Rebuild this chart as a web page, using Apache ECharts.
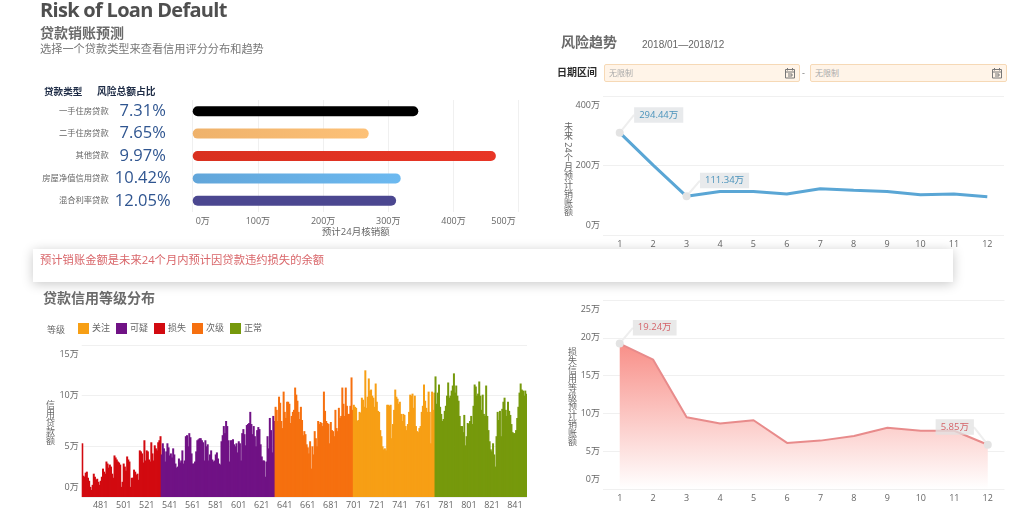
<!DOCTYPE html>
<html lang="zh">
<head>
<meta charset="UTF-8">
<title>Risk of Loan Default</title>
<script src="https://cdn.jsdelivr.net/npm/echarts@6/dist/echarts.min.js"></script>
<style>
    html, body { margin: 0; padding: 0; background: #fff; overflow: hidden; }
    body { width: 1024px; height: 525px; position: relative; font-family: "Open Sans", "Noto Sans CJK SC", sans-serif; }
    #main { position: absolute; left: 0; top: 0; width: 1024px; height: 525px; }
    .txt { position: absolute; white-space: nowrap; line-height: 1; }
    .head { font-weight: bold; font-size: 14px; color: #6a6a6a; }
    .vname { position: absolute; white-space: nowrap; line-height: 1; writing-mode: vertical-rl; font-size: 9px; color: #666; }
    .range { position: absolute; top: 64px; height: 16px; background: #fff4e8; border: 1px solid #f6d9b6; border-radius: 2px;
        font-size: 8px; line-height: 16px; color: #aaa; text-indent: 4px; }
    .range svg { position: absolute; right: 3px; top: 2px; }
    #note { position: absolute; left: 33px; top: 249px; width: 920px; height: 33px; background: #fff; box-shadow: 0 2px 12px rgba(0,0,0,.22); }
</style>
</head>
<body>
<div id="main"></div>
<div class="txt" style="left:40px;top:0;font-size:20px;font-weight:bold;letter-spacing:-0.7px;color:#4f4f4f">Risk of Loan Default</div>
<div class="txt head" style="left:40px;top:26px">贷款销账预测</div>
<div class="txt" style="left:40px;top:43px;font-size:11.2px;color:#777">选择一个贷款类型来查看信用评分分布和趋势</div>
<div class="txt" style="left:44px;top:87px;font-size:9.6px;font-weight:bold;color:#1d2b45">贷款类型</div>
<div class="txt" style="left:97px;top:87px;font-size:9.75px;font-weight:bold;color:#1d2b45">风险总额占比</div>
<div class="txt head" style="left:561px;top:35px">风险趋势</div>
<div class="txt" style="left:642px;top:40px;font-size:10px;color:#666;font-family:'Liberation Sans'">2018/01—2018/12</div>
<div class="txt" style="left:557px;top:67px;font-size:10px;font-weight:bold;color:#2a2a2a">日期区间</div>
<div class="range" style="left:604px;width:194px">无限制
    <svg width="12" height="12" viewBox="0 0 12 12"><path d="M1.5 2.5h9v8.5h-9zM1.5 5h9M3.5 1v2.5M8.5 1v2.5M4 7h4v2H4" fill="none" stroke="#777" stroke-width="1"/></svg></div>
<div class="txt" style="left:802px;top:68px;font-size:9px;color:#777">-</div>
<div class="range" style="left:810px;width:195px">无限制
    <svg width="12" height="12" viewBox="0 0 12 12"><path d="M1.5 2.5h9v8.5h-9zM1.5 5h9M3.5 1v2.5M8.5 1v2.5M4 7h4v2H4" fill="none" stroke="#777" stroke-width="1"/></svg></div>
<div class="vname" style="left:564px;top:122px">未来 24个月预计销账额</div>
<div id="note"><div class="txt" style="left:7px;top:5px;font-size:11.3px;color:#d9666a">预计销账金额是未来24个月内预计因贷款违约损失的余额</div></div>
<div class="txt head" style="left:43px;top:291px">贷款信用等级分布</div>
<div class="txt" style="left:47px;top:325px;font-size:9px;color:#666">等级</div>
<div class="vname" style="left:46px;top:400px">信用贷款额</div>
<div class="vname" style="left:568px;top:347px">损失信用等级预计销账额</div>

<script>
    // 贷款类型
    var loanTypes = ['一手住房贷款', '二手住房贷款', '其他贷款', '房屋净值信用贷款', '混合利率贷款'];
    var riskShares = ['7.31%', '7.65%', '9.97%', '10.42%', '12.05%'];
    var chargeOffs = [346, 270, 465, 319, 312];
    var barColors = [['#000000', '#000000'], ['#efb26b', '#fdc177'], ['#d9301f', '#e83626'], ['#62a6da', '#6cb9f0'], ['#4b4790', '#4b4790']];

    // 风险趋势
    var months = ['1', '2', '3', '4', '5', '6', '7', '8', '9', '10', '11', '12'];
    var trendValues = [294.44, 201, 111.34, 125, 125, 118, 133, 128.5, 125, 116, 118, 110];
    var lossTrendValues = [19.24, 17.1, 9.5, 8.65, 9.1, 6.1, 6.4, 7.0, 8.1, 7.7, 7.7, 5.85];

    // 信用分布,单位万
    var firstScore = 465;
    var lossValues = [5.3,2.1,2.0,2.4,2.5,1.9,1.6,1.0,0.7,1.2,
        2.3,2.0,1.7,1.8,1.5,1.2,1.6,2.0,2.8,2.5,
        2.3,3.5,3.3,2.9,3.2,3.0,2.3,1.9,4.1,3.9,
        3.7,3.5,3.4,3.2,1.0,1.5,3.3,3.0,2.6,4.0,
        3.7,3.5,1.0,1.9,1.9,2.7,2.5,2.2,2.3,1.7,
        4.6,4.5,4.3,3.4,5.6,3.6,4.6,4.5,3.7,3.5,
        5.4,4.3,3.6,5.1,4.8,4.6,5.4,5.6,6.0];
    var doubtfulValues = [4.2,5.3,4.8,3.5,4.5,5.3,4.9,4.1,4.3,3.9,
        4.8,4.2,3.3,2.9,3.0,3.8,3.4,3.6,4.6,3.3,
        3.6,6.0,6.1,5.0,6.3,5.9,4.3,3.3,3.3,3.5,
        4.5,5.6,5.7,5.8,5.8,5.6,5.4,3.6,5.6,5.0,
        5.2,3.6,4.2,4.6,3.7,3.5,3.6,4.2,4.4,3.8,
        3.3,3.2,5.5,6.1,7.0,6.3,7.5,7.0,5.6,3.5,
        5.6,5.6,5.7,5.2,5.0,5.3,4.4,5.5,5.3,3.6,
        6.3,6.7,6.2,5.1,7.1,7.2,7.3,8.4,7.2,6.2,
        7.0,6.0,5.0,6.6,6.9,6.7,5.2,4.0,3.6,3.6,
        2.0,3.5,6.0,4.8,7.8,6.6,4.4,8.0,7.5];
    var subValues = [8.9,8.6,7.5,9.9,9.3,7.5,6.8,10.4,8.4,7.8,
        9.4,9.4,9.2,7.3,8.0,8.4,8.6,10.8,10.1,9.5,
        8.4,7.7,8.9,7.6,6.1,6.5,6.2,5.2,4.9,4.3,
        5.5,2.8,5.0,4.2,6.5,5.8,5.0,7.5,7.2,7.4,
        7.3,7.0,10.4,8.5,7.5,7.3,7.2,5.3,7.4,6.6,
        6.5,6.0,8.6,6.8,6.5,8.8,7.8,8.0,10.8,9.2,
        8.0,10.8,9.0,8.2,8.2,9.0,11.8,8.6];
    var watchValues = [9.1,8.9,8.8,7.5,7.6,8.4,8.3,9.8,9.6,8.9,
        12.5,8.8,9.9,11.7,10.5,10.6,10.0,9.8,8.9,11.2,
        9.4,8.5,8.4,6.6,6.0,5.0,4.7,4.8,4.6,9.1,
        9.1,9.0,9.1,5.8,7.2,8.6,10.6,9.9,9.7,9.2,
        9.4,8.2,7.5,8.2,8.1,7.0,6.6,7.2,8.4,10.1,
        10.0,10.2,8.8,10.0,7.0,6.5,6.4,6.8,7.0,8.4,
        9.0,11.1,9.5,8.8,8.4,10.4,8.4,5.3,10.4,8.6,10.3];
    var normalValues = [11.9,9.2,10.3,11.1,8.9,8.2,7.5,7.7,8.5,9.0,
        10.0,11.3,9.8,10.0,10.5,11.0,12.2,10.3,11.0,10.0,
        9.5,8.0,7.0,7.0,6.4,8.1,5.1,6.0,7.3,7.2,
        7.5,8.0,7.2,9.0,11.1,10.9,10.0,10.2,11.4,10.0,
        8.6,10.1,8.2,8.0,11.0,8.0,6.6,5.5,4.7,4.5,
        5.3,4.2,3.0,6.0,8.4,7.6,8.5,6.0,8.7,9.4,
        9.8,8.6,8.0,9.4,8.5,8.1,7.2,6.4,6.3,6.3,
        6.6,7.8,8.9,10.3,11.2,10.6,10.5,10.0,10.5,10.2];

    var font = '"Open Sans", "Noto Sans CJK SC", sans-serif';
    var gray = '#666';
    var splitLine = { show: true, lineStyle: { color: '#f0f0f0' } };

    // 每个等级一段,按顺序接在一起
    var scores = [];
    var total = lossValues.length + doubtfulValues.length + subValues.length + watchValues.length + normalValues.length;
    for (var i = 0; i < total; i++) scores.push(String(firstScore + i));

    function gradeBars(name, color, values, start) {
        return {
            name: name, type: 'bar', xAxisIndex: 1, yAxisIndex: 1,
            barWidth: 2, barGap: '-100%',
            itemStyle: { color: color },
            data: values.map(function (v, idx) { return [start + idx, v]; })
        };
    }

    function yAxisOf(gridIndex, max, interval) {
        return {
            type: 'value', gridIndex: gridIndex, min: 0, max: max, interval: interval,
            axisLine: { show: false }, axisTick: { show: false },
            axisLabel: {
                color: gray, fontSize: 9, margin: 3, fontFamily: font, padding: [5, 0, 5, 0],
                formatter: '{value}万', verticalAlignMinLabel: 'bottom', verticalAlignMaxLabel: 'top'
            },
            splitLine: splitLine
        };
    }

    function monthAxis(gridIndex) {
        return {
            type: 'category', gridIndex: gridIndex, data: months,
            axisLine: { show: false }, axisTick: { show: false },
            axisLabel: { color: gray, fontSize: 9, margin: 5, fontFamily: font }
        };
    }

    var labelMoves = {
        trend: { 0: [39, -1], 2: [38, 1] },
        loss: { 0: [35, 1], 11: [-33, -1] }
    };

    function marked(values, marks, color, bg) {
        return values.map(function (v, idx) {
            if (!(idx in marks)) return v;
            return {
                value: v, symbol: 'circle', symbolSize: 8,
                itemStyle: { color: '#e3e3e3' },
                label: {
                    show: true, position: 'top', color: color, fontSize: 9.5, fontFamily: font,
                    backgroundColor: bg, padding: [3, 5],
                    formatter: v.toFixed(2) + '万'
                }
            };
        });
    }

    var option = {
        animation: false,
        textStyle: { fontFamily: font },
        legend: {
            left: 73, top: 318, itemWidth: 11, itemHeight: 11, itemGap: 6, icon: 'rect',
            textStyle: { color: gray, fontSize: 9, fontFamily: font, padding: [0, 0, 0, -2] },
            data: ['关注', '可疑', '损失', '次级', '正常']
        },
        grid: [
            { left: 192.7, top: 100, width: 326, height: 112 },
            { left: 81.7, top: 345, width: 445.3, height: 152 },
            { left: 603, top: 96, width: 401, height: 139 },
            { left: 603, top: 300, width: 401.5, height: 189 }
        ],
        xAxis: [
            {
                type: 'value', gridIndex: 0, min: 0, max: 500, interval: 100,
                name: '预计24月核销额', nameLocation: 'middle', nameGap: 16,
                nameTextStyle: { color: gray, fontSize: 9.5, fontFamily: font },
                axisLine: { show: false }, axisTick: { show: false },
                axisLabel: {
                    color: gray, fontSize: 9, margin: 5, fontFamily: font, padding: [0, 3, 0, 3],
                    formatter: '{value}万', alignMinLabel: 'left', alignMaxLabel: 'right'
                },
                splitLine: splitLine
            },
            {
                type: 'category', gridIndex: 1, data: scores,
                axisLine: { show: false }, axisTick: { show: false },
                axisLabel: {
                    color: gray, fontSize: 9, margin: 4, fontFamily: font,
                    interval: function (idx, value) { return (Number(value) - 481) % 20 === 0; }
                }
            },
            monthAxis(2),
            monthAxis(3)
        ],
        yAxis: [
            {
                type: 'category', gridIndex: 0, inverse: true, data: loanTypes,
                axisLine: { show: false }, axisTick: { show: false },
                axisLabel: { color: gray, fontSize: 8.3, margin: 84, fontFamily: font }
            },
            yAxisOf(1, 15, 5),
            yAxisOf(2, 400, 200),
            yAxisOf(3, 25, 5),
            {
                // 占比那一列
                type: 'category', gridIndex: 0, inverse: true, position: 'left', data: riskShares,
                axisLine: { show: false }, axisTick: { show: false },
                axisLabel: { color: '#2f5590', fontSize: 16.5, margin: 50, align: 'center', fontFamily: font }
            }
        ],
        series: [
            {
                type: 'bar', xAxisIndex: 0, yAxisIndex: 0, barWidth: 10,
                data: chargeOffs.map(function (v, idx) {
                    return {
                        value: v,
                        itemStyle: {
                            borderRadius: 5,
                            color: new echarts.graphic.LinearGradient(0, 0, 1, 0, [
                                { offset: 0, color: barColors[idx][0] },
                                { offset: 1, color: barColors[idx][1] }
                            ])
                        }
                    };
                })
            },
            gradeBars('损失', '#d20a10', lossValues, 0),
            gradeBars('可疑', '#701285', doubtfulValues, lossValues.length),
            gradeBars('次级', '#f6700f', subValues, lossValues.length + doubtfulValues.length),
            gradeBars('关注', '#f79f15', watchValues, lossValues.length + doubtfulValues.length + subValues.length),
            gradeBars('正常', '#76990c', normalValues, lossValues.length + doubtfulValues.length + subValues.length + watchValues.length),
            {
                type: 'line', xAxisIndex: 2, yAxisIndex: 2, symbol: 'none',
                lineStyle: { color: '#5aa6d5', width: 3 },
                labelLine: { show: true, lineStyle: { color: '#eeeeee', width: 2 } },
                labelLayout: function (p) {
                    var m = labelMoves.trend[p.dataIndex];
                    return m ? { dx: m[0], dy: m[1] } : {};
                },
                data: marked(trendValues, labelMoves.trend, '#4a93bb', '#e8eaec')
            },
            {
                type: 'line', xAxisIndex: 3, yAxisIndex: 3, symbol: 'none',
                lineStyle: { color: '#e88b8b', width: 2 },
                areaStyle: {
                    opacity: 1,
                    color: new echarts.graphic.LinearGradient(0, 0, 0, 1, [
                        { offset: 0, color: '#f88f88' },
                        { offset: 1, color: '#ffffff' }
                    ])
                },
                labelLine: { show: true, lineStyle: { color: '#eeeeee', width: 2 } },
                labelLayout: function (p) {
                    var m = labelMoves.loss[p.dataIndex];
                    return m ? { dx: m[0], dy: m[1] } : {};
                },
                data: marked(lossTrendValues, labelMoves.loss, '#d5646a', 'rgba(226,226,226,0.75)')
            }
        ]
    };

    var myChart = echarts.init(document.getElementById('main'));
    myChart.setOption(option);
</script>
</body>
</html>
